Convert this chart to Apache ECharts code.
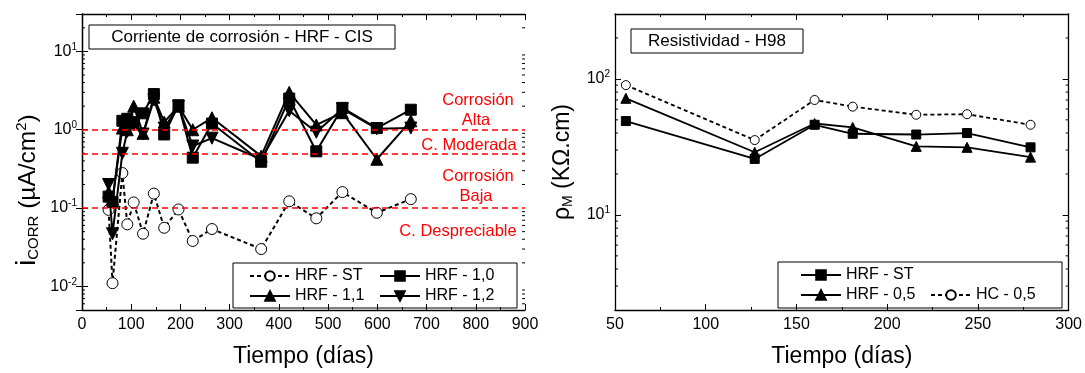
<!DOCTYPE html>
<html>
<head>
<meta charset="utf-8">
<script src="https://cdn.jsdelivr.net/npm/echarts@6/dist/echarts.min.js"></script>
<style>
  html, body { margin: 0; padding: 0; background: #fff; }
  #chart { width: 1085px; height: 373px; }
</style>
</head>
<body>
<div id="chart"></div>
<script>
const FONT = '"Liberation Sans", Arial, sans-serif';

// left panel: corrosion current (uA/cm2) vs time (days)
const daysCorr = [54, 62, 82, 92, 105, 124, 146, 167, 196, 225, 264, 364, 421, 476, 529, 599, 668];
const corrST  = [0.095, 0.011, 0.28, 0.062, 0.118, 0.047, 0.153, 0.056, 0.096, 0.038, 0.054, 0.030, 0.122, 0.074, 0.16, 0.087, 0.13];
const corr10  = [0.14, 0.12, 1.3, 1.38, 1.25, 1.62, 2.85, 0.87, 2.05, 0.44, 1.2, 0.39, 2.5, 0.53, 1.9, 1.05, 1.8];
const corr11  = [0.16, 0.13, 1.05, 1.0, 2.0, 0.9, 2.6, 1.25, 2.0, 1.0, 1.42, 0.46, 3.0, 1.15, 1.65, 0.42, 1.3];
const corr12  = [0.2, 0.047, 0.5, 0.95, 1.15, 0.88, 2.4, 1.05, 2.0, 0.62, 0.78, 0.42, 1.75, 0.93, 1.85, 1.03, 1.05];
const corrLimits = [1, 0.5, 0.1];

// right panel: resistivity (KOhm.cm) vs time (days)
const daysRes  = [56, 127, 160, 181, 216, 244, 279];
const resST    = [49, 25.8, 46, 39.5, 39, 40, 31.4];
const res05    = [72, 28.9, 47, 44, 31.9, 31.4, 26.6];
const resHC05  = [90, 35.5, 70, 62.5, 54.5, 55, 46];

// minor log ticks (2..9 per decade) inside each y range
const corrMinor = [0.006, 0.007, 0.008, 0.009, 0.02, 0.03, 0.04, 0.05, 0.06, 0.07, 0.08, 0.09,
                   0.2, 0.3, 0.4, 0.5, 0.6, 0.7, 0.8, 0.9, 2, 3, 4, 5, 6, 7, 8, 9, 20];
const resMinor  = [3, 4, 5, 6, 7, 8, 9, 20, 30, 40, 50, 60, 70, 80, 90, 200];

const zip = (xs, ys) => xs.map((x, i) => [x, ys[i]]);

function powLabel(v) {
  const e = Math.round(Math.log10(v));
  if (Math.abs(v / Math.pow(10, e) - 1) > 1e-6) return '';
  return '{b|10}{s|' + e + '}';
}

const black = '#000';
const red = '#ff0000';
const tickStyle = { show: true, inside: true, length: 6, lineStyle: { color: black, width: 1 } };
const minorStyle = { show: true, length: 3, lineStyle: { color: black, width: 1 } };
const lineAxis = { show: true, lineStyle: { color: black, width: 1.3 } };
const labelRich = {
  b: { fontSize: 16, fontFamily: FONT, color: black },
  s: { fontSize: 10, fontFamily: FONT, color: black, padding: [0, 0, 9, 0] }
};

function xAx(grid, pos, min, max, interval, showLabel, name) {
  return {
    type: 'value', gridIndex: grid, position: pos, min, max, interval,
    axisLine: lineAxis, axisTick: tickStyle,
    minorTick: Object.assign({ splitNumber: 2 }, minorStyle),
    splitLine: { show: false },
    axisLabel: { show: showLabel, fontSize: 16, fontFamily: FONT, color: black, margin: 7 },
    name: name || '', nameLocation: 'middle', nameGap: 35,
    nameTextStyle: { fontSize: 23, fontFamily: FONT, color: black, fontWeight: 'normal' }
  };
}

function yAx(grid, pos, min, max, showLabel, name, nameRich, namePad) {
  return {
    type: 'log', logBase: 10, gridIndex: grid, position: pos, min, max,
    axisLine: lineAxis, axisTick: tickStyle,
    minorTick: { show: false },
    splitLine: { show: false },
    axisLabel: { show: showLabel, formatter: powLabel, rich: labelRich, margin: 5 },
    name: name || '', nameLocation: 'middle', nameGap: 40,
    nameTextStyle: { fontSize: 23, fontFamily: FONT, color: black, rich: nameRich, padding: namePad || 0 }
  };
}

// short inside ticks on both vertical edges of a grid, placed through the axis scale
function minorTicks(xi, yi, xMin, xMax, vals) {
  return {
    type: 'custom', xAxisIndex: xi, yAxisIndex: yi, silent: true, z: 1,
    encode: { x: 0, y: 1 },
    data: vals.map(v => [xMin, v]),
    renderItem: (params, api) => {
      const v = api.value(1);
      const a = api.coord([xMin, v]);
      const b = api.coord([xMax, v]);
      const st = { stroke: black, lineWidth: 1 };
      return {
        type: 'group', children: [
          { type: 'line', shape: { x1: a[0], y1: a[1], x2: a[0] + 3, y2: a[1] }, style: st },
          { type: 'line', shape: { x1: b[0], y1: b[1], x2: b[0] - 3, y2: b[1] }, style: st }
        ]
      };
    }
  };
}

const corrSeries = (name, data, symbol, rotate, dashed) => ({
  name, type: 'line', xAxisIndex: 0, yAxisIndex: 0,
  data: zip(daysCorr, data),
  symbol, symbolSize: symbol === 'triangle' ? 12 : 11, symbolRotate: rotate || 0,
  showAllSymbol: true,
  lineStyle: { color: black, width: 2, type: dashed ? [4, 3] : 'solid' },
  itemStyle: { color: dashed ? '#fff' : black, borderColor: black, borderWidth: 1 },
  z: dashed ? 3 : 4
});

const resSeries = (name, data, symbol, dashed) => ({
  name, type: 'line', xAxisIndex: 2, yAxisIndex: 2,
  data: zip(daysRes, data),
  symbol, symbolSize: symbol === 'triangle' ? 10 : 9,
  lineStyle: { color: black, width: 1.8, type: dashed ? [4, 3] : 'solid' },
  itemStyle: { color: dashed ? '#fff' : black, borderColor: black, borderWidth: 1 }
});

const st = corrSeries('HRF - ST', corrST, 'circle', 0, true);
st.markLine = {
  silent: true, symbol: 'none', label: { show: false },
  lineStyle: { color: red, type: [6, 4], width: 1.5 },
  data: corrLimits.map(v => ({ yAxis: v }))
};

const redText = (text, x, y) => ({
  type: 'text', x, y, silent: true,
  style: { text, fill: red, font: '16.5px ' + FONT, align: 'center', verticalAlign: 'middle' }
});
const boxText = (text, x, y, w, h) => ({
  type: 'group', x, y, silent: true,
  children: [
    { type: 'rect', shape: { x: 0, y: 0, width: w, height: h }, style: { fill: 'none', stroke: black, lineWidth: 1 } },
    { type: 'text', x: w / 2, y: h / 2, style: { text, fill: black, font: '17px ' + FONT, align: 'center', verticalAlign: 'middle' } }
  ]
});
const legendBox = (x, y, w, h) => ({
  type: 'rect', silent: true, shape: { x, y, width: w, height: h },
  style: { fill: 'none', stroke: black, lineWidth: 1 }
});

const legendBase = {
  orient: 'vertical', itemWidth: 40, itemHeight: 12, itemGap: 2, padding: 0,
  textStyle: { fontSize: 16, fontFamily: FONT, color: black, lineHeight: 18 },
  symbolRotate: 'inherit', selectedMode: false
};

const chart = echarts.init(document.getElementById('chart'), null, { renderer: 'canvas' });
chart.setOption({
  animation: false,
  backgroundColor: '#fff',
  grid: [
    { left: 82, top: 14, width: 443, height: 304 },
    { left: 615, top: 14, width: 456, height: 304 }
  ],
  xAxis: [
    xAx(0, 'bottom', 0, 900, 100, true, 'Tiempo (días)'),
    xAx(0, 'top', 0, 900, 100, false),
    xAx(1, 'bottom', 50, 300, 50, true, 'Tiempo (días)'),
    xAx(1, 'top', 50, 300, 50, false)
  ],
  yAxis: [
    yAx(0, 'left', 0.005, 30, true, '{i|i}{sub|CORR}{n| (µA/cm}{sup|2}{n|)}', {
      i: { fontSize: 27, fontFamily: FONT, color: black },
      sub: { fontSize: 15, fontFamily: FONT, color: black, padding: [11, 0, 0, 0] },
      n: { fontSize: 24.5, fontFamily: FONT, color: black },
      sup: { fontSize: 15, fontFamily: FONT, color: black, padding: [0, 0, 13, 0] }
    }, [0, 56, 0, 0]),
    yAx(0, 'right', 0.005, 30, false),
    yAx(1, 'left', 2, 300, true, '{n|ρ}{sub|M}{n| (KΩ.cm)}', {
      n: { fontSize: 23, fontFamily: FONT, color: black },
      sub: { fontSize: 14, fontFamily: FONT, color: black, padding: [10, 0, 0, 0] }
    }),
    yAx(1, 'right', 2, 300, false)
  ],
  legend: [
    Object.assign({ data: ['HRF - ST', 'HRF - 1,1'], left: 249, top: 267 }, legendBase),
    Object.assign({ data: ['HRF - 1,0', 'HRF - 1,2'], left: 379, top: 267 }, legendBase),
    Object.assign({ data: ['HRF - ST ', 'HRF - 0,5'], left: 800, top: 266 }, legendBase),
    Object.assign({ data: ['HC - 0,5'], left: 930, top: 286 }, legendBase)
  ],
  graphic: [
    boxText('Corriente de corrosión - HRF - CIS', 89, 25, 306, 24),
    boxText('Resistividad - H98', 631, 29, 172, 24),
    legendBox(233, 263, 284, 45),
    legendBox(778, 262, 284, 46),
    redText('Corrosión', 478, 100),
    redText('Alta', 476, 120),
    redText('C. Moderada', 469, 145),
    redText('Corrosión', 478, 176),
    redText('Baja', 476, 196),
    redText('C. Despreciable', 458, 231)
  ],
  series: [
    minorTicks(0, 0, 0, 900, corrMinor),
    minorTicks(2, 2, 50, 300, resMinor),
    st,
    corrSeries('HRF - 1,0', corr10, 'rect'),
    corrSeries('HRF - 1,1', corr11, 'triangle'),
    corrSeries('HRF - 1,2', corr12, 'triangle', 180),
    resSeries('HRF - ST ', resST, 'rect'),
    resSeries('HRF - 0,5', res05, 'triangle'),
    resSeries('HC - 0,5', resHC05, 'circle', true)
  ]
});
</script>
</body>
</html>
